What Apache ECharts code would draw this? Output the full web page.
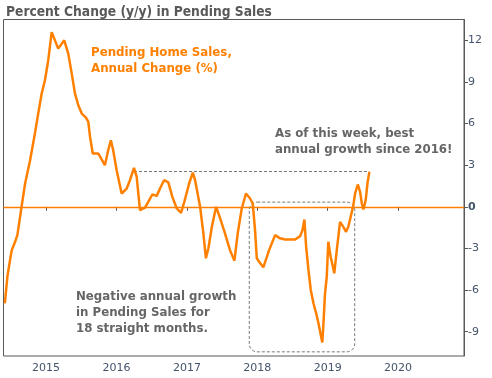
<!DOCTYPE html>
<html>
<head>
<meta charset="utf-8">
<script src="https://cdn.jsdelivr.net/npm/echarts@6/dist/echarts.min.js"></script>
<style>html,body{margin:0;padding:0;background:#fff}#c{width:492px;height:378px}</style>
</head>
<body>
<div id="c"></div>
<script>
// ---- data ----
const dates = [
 '2014-06-01','2014-06-14','2014-06-28','2014-07-07','2014-07-24','2014-08-05','2014-08-28','2014-09-14',
 '2014-10-10','2014-11-04','2014-11-21','2014-12-09','2014-12-26','2015-01-12','2015-01-30','2015-02-07',
 '2015-03-05','2015-04-05','2015-04-26','2015-05-14','2015-05-31','2015-06-17','2015-07-05','2015-07-27',
 '2015-08-08','2015-08-17','2015-08-31','2015-09-29','2015-10-08','2015-11-02','2015-11-19','2015-12-03',
 '2015-12-15','2016-01-02','2016-01-28','2016-02-23','2016-03-11','2016-04-01','2016-04-15','2016-05-02',
 '2016-05-28','2016-06-14','2016-07-05','2016-07-28','2016-08-14','2016-09-04','2016-09-26','2016-10-17',
 '2016-11-09','2016-12-01','2016-12-18','2017-01-12','2017-01-31','2017-02-12','2017-03-10','2017-03-27',
 '2017-04-09','2017-04-22','2017-05-10','2017-06-01','2017-06-22','2017-07-17','2017-08-12','2017-09-04',
 '2017-09-21','2017-10-12','2017-11-03','2017-11-24','2017-12-08','2017-12-20','2017-12-29','2018-01-10',
 '2018-02-01','2018-03-03','2018-04-03','2018-04-29','2018-05-25','2018-07-16','2018-08-11','2018-08-23',
 '2018-09-02','2018-09-11','2018-09-23','2018-10-05','2018-10-19','2018-11-02','2018-11-14','2018-11-26',
 '2018-12-04','2018-12-09','2018-12-18','2018-12-27','2019-01-04','2019-01-16','2019-01-27','2019-02-04',
 '2019-02-17','2019-02-25','2019-03-06','2019-03-23','2019-04-06','2019-04-18','2019-05-02','2019-05-14',
 '2019-05-23','2019-06-06','2019-06-18','2019-06-27','2019-07-05','2019-07-17','2019-07-26','2019-08-05'
];
const values = [
 -6.95,-5.04,-3.83,-3.12,-2.52,-2.04,0.12,1.68,
 3.36,5.28,6.72,8.16,9.12,10.55,12.59,12.47,
 11.4,12.0,11.04,9.6,8.16,7.32,6.72,6.43,
 6.12,5.04,3.84,3.84,3.79,3.0,4.08,4.8,
 4.08,2.64,0.96,1.32,1.92,2.81,2.16,-0.24,
 -0.05,0.36,0.89,0.79,1.32,1.92,1.76,0.72,
 -0.12,-0.43,0.36,1.68,2.47,1.92,0.0,-1.91,
 -3.71,-2.99,-1.44,0.0,-0.83,-1.91,-3.12,-3.88,
 -1.91,-0.12,0.96,0.60,0.24,-1.68,-3.71,-3.96,
 -4.36,-3.12,-2.04,-2.27,-2.35,-2.35,-2.11,-1.68,
 -0.91,-2.88,-4.55,-5.99,-6.95,-7.67,-8.39,-9.23,
 -9.78,-8.63,-6.23,-5.04,-2.52,-3.60,-4.27,-4.79,
 -3.12,-2.16,-1.08,-1.44,-1.80,-1.44,-0.60,0.12,
 0.96,1.61,1.08,0.24,-0.19,0.48,1.68,2.52
];
const yTickValues = [-9, -6, -3, 0, 3, 6, 9, 12];
const yearTicks = [2015, 2016, 2017, 2018, 2019, 2020];
const title = 'Percent Change (y/y) in Pending Sales';
const seriesLabel = ['Pending Home Sales,', 'Annual Change (%)'];
const noteTop = ['As of this week, best', 'annual growth since 2016!'];
const noteBottom = ['Negative annual growth', 'in Pending Sales for', '18 straight months.'];
// annotation anchors (data coordinates)
const bestLine = { from: '2016-04-01', to: '2019-08-05', value: 2.55 };
const negBox = { from: '2017-11-20', to: '2019-05-21', top: 0.34, bottom: -10.45 };

// ---- build ----
const ts = s => { const p = s.split('-'); return Date.UTC(+p[0], +p[1]-1, +p[2]); };
const lineData = dates.map((d, i) => [ts(d), values[i]]);
const yearTs = yearTicks.map(y => Date.UTC(y, 0, 1));

const ORANGE = '#ff8000';
const AXIS = '#595959';
const LABEL = '#44546a';
const NOTE = '#666666';
const FONT = 'DejaVu Sans';

const chart = echarts.init(document.getElementById('c'), null, { renderer: 'canvas' });
chart.setOption({
  animation: false,
  backgroundColor: '#fff',
  title: {
    text: title, left: 1, top: 0,
    textStyle: { fontFamily: '"DejaVu Sans Condensed", "DejaVu Sans"', fontSize: 13.7, fontWeight: 'bold', color: AXIS }
  },
  grid: {
    left: 3.5, right: 28, top: 19.5, bottom: 22,
    show: true, borderColor: AXIS, borderWidth: 1, containLabel: false
  },
  xAxis: {
    type: 'value',
    min: Date.UTC(2014, 4, 25), max: Date.UTC(2020, 11, 8),
    axisLine: { show: true, lineStyle: { color: AXIS, width: 1 } },
    axisTick: { show: true, customValues: yearTs, length: 4, inside: false, lineStyle: { color: AXIS } },
    axisLabel: {
      customValues: yearTs, margin: 7,
      formatter: v => String(new Date(v).getUTCFullYear()),
      fontFamily: FONT, fontSize: 11, color: LABEL
    },
    splitLine: { show: false }
  },
  yAxis: {
    type: 'value', position: 'right',
    min: -10.75, max: 13.5,
    axisLine: { show: true, lineStyle: { color: AXIS, width: 1 } },
    axisTick: { show: true, customValues: yTickValues, length: 4, inside: false, lineStyle: { color: AXIS } },
    axisLabel: {
      customValues: yTickValues, margin: 4,
      formatter: v => v === 0 ? '{b|0}' : String(v),
      fontFamily: FONT, fontSize: 11, color: LABEL,
      rich: { b: { fontFamily: FONT, fontSize: 11, fontWeight: 'bold', color: LABEL } }
    },
    splitLine: { show: false }
  },
  series: [{
    type: 'line',
    data: lineData,
    showSymbol: false,
    symbol: 'none',
    lineStyle: { color: ORANGE, width: 2.5 },
    z: 5,
    markLine: {
      silent: true, symbol: ['none', 'none'],
      label: { show: false },
      data: [
        { yAxis: 0, lineStyle: { color: ORANGE, width: 1.3, type: 'solid' } },
        [
          { coord: [ts(bestLine.from), bestLine.value], lineStyle: { color: '#777', width: 1, type: [3, 2] } },
          { coord: [ts(bestLine.to), bestLine.value] }
        ]
      ]
    }
  }]
});

function placeGraphics() {
  const p1 = chart.convertToPixel({ gridIndex: 0 }, [ts(negBox.from), negBox.top]);
  const p2 = chart.convertToPixel({ gridIndex: 0 }, [ts(negBox.to), negBox.bottom]);
  const txt = (lines, x, y, color) => ({
    type: 'text', left: x, top: y, silent: true, z: 20,
    style: {
      text: lines.join('\n'), fill: color,
      font: 'bold 11.8px "' + FONT + '"', lineHeight: 16
    }
  });
  chart.setOption({
    graphic: [
      {
        type: 'rect', silent: true, z: 3,
        shape: { x: p1[0], y: p1[1], width: p2[0] - p1[0], height: p2[1] - p1[1], r: 8 },
        style: { fill: 'none', stroke: '#777', lineWidth: 1, lineDash: [3, 2] }
      },
      txt(seriesLabel, 91, 45, ORANGE),
      txt(noteTop, 275, 126, NOTE),
      txt(noteBottom, 76, 289, NOTE)
    ]
  });
}
placeGraphics();
</script>
</body>
</html>
